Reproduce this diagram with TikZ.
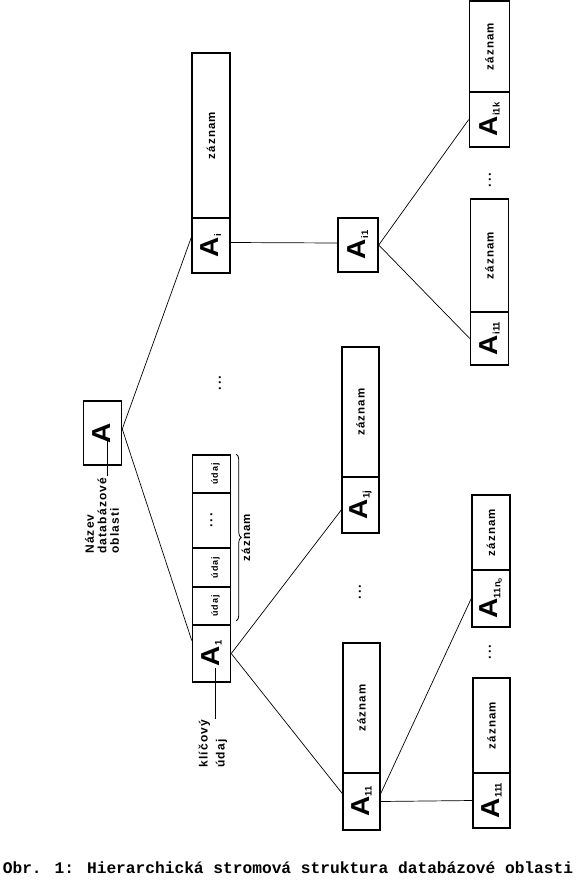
\documentclass[tikz,border=0pt]{standalone}
\usepackage{fontspec}
\usepackage{graphicx}
\usetikzlibrary{decorations.pathreplacing}
\setmainfont{Liberation Sans}
\newfontfamily\lblfont{Liberation Sans}[LetterSpace=10]
\newfontfamily\capfont{Liberation Mono}
\newcommand{\Alab}[1]{\rotatebox{90}{\bfseries\scalebox{1.08}[1]{\fontsize{26}{26}\selectfont A}\kern0.5pt\raisebox{-2.5pt}{\fontsize{9.5}{9.5}\selectfont #1}}}
\newcommand{\rtext}[2]{\rotatebox{90}{\lblfont\fontsize{#1}{#1}\selectfont\bfseries #2}}
\newcommand{\rdots}{\rotatebox{90}{\fontsize{13}{13}\selectfont\bfseries .\kern2pt.\kern2pt.}}
\tikzset{
  acell/.style={draw, line width=1.5pt, inner sep=0pt, minimum width=38pt, minimum height=#1},
  zcell/.style={draw, line width=1.5pt, inner sep=0pt, minimum width=38pt, minimum height=#1},
  conn/.style={line width=0.7pt},
  lbl/.style={rotate=90, anchor=west, align=left, inner sep=1pt, font=\lblfont\fontsize{12}{12.5}\selectfont\bfseries},
  dotsnode/.style={inner sep=0pt}
}
\begin{document}
\begin{tikzpicture}[x=1pt,y=-1pt]
\useasboundingbox (0,0) rectangle (578,887);
% root
\node[acell=64pt] (root) at (102.5,433) {\Alab{}};
\node[lbl] (nazev) at (102,555) {Název\\databázové\\oblasti};
\coordinate (c1) at (107,441);
\draw[conn] (c1) -- (c1 |- nazev.east);
% right subtree
\node[zcell=165pt] (Aiz) at (211,135.5) {\rtext{11.5}{záznam}};
\node[acell=55pt] (Ai) at (211,245.5) {\Alab{i}};
\node[acell=54pt, minimum width=40pt] (Ai1) at (358,245) {\Alab{i1}};
\node[zcell=91pt, minimum width=40pt] (Ai1kz) at (489.5,46.5) {\rtext{11.5}{záznam}};
\node[acell=55pt, minimum width=40pt] (Ai1k) at (489.5,119.5) {\Alab{i1k}};
\node[zcell=113pt] (Ai11z) at (489.5,255.5) {\rtext{11.5}{záznam}};
\node[acell=53pt] (Ai11) at (489.5,338.5) {\Alab{i11}};
% left subtree
\node[zcell=38pt] (u1) at (211.5,474) {\hspace{8pt}\rtext{9}{údaj}};
\node[zcell=55pt] (u2) at (211.5,520.5) {\rdots};
\node[zcell=39pt] (u3) at (211.5,567.5) {\hspace{8pt}\rtext{9}{údaj}};
\node[zcell=38pt] (u4) at (211.5,606) {\hspace{8pt}\rtext{9}{údaj}};
\node[acell=57pt] (A1) at (211.5,653.5) {\Alab{1}};
\draw[decorate, decoration={brace, amplitude=5pt}, line width=0.8pt]
  ([xshift=5pt]u1.north east) -- ([xshift=5pt, yshift=5pt]u4.south east) node[midway, right=5pt, inner sep=0pt] (bz) {\rtext{11.5}{záznam}};
\node[lbl, font=\lblfont\fontsize{12}{17}\selectfont\bfseries] (klic) at (213,769) {klíčový\\údaj};
\coordinate (c2) at (215,668);
\draw[conn] (c2) -- (c2 |- klic.east);
\node[zcell=130pt, minimum width=37pt] (A1jz) at (360.5,412) {\rtext{11.5}{záznam}};
\node[acell=56pt, minimum width=37pt] (A1j) at (360.5,505) {\Alab{1j}};
\node[zcell=130pt, minimum width=37pt] (A11z) at (361.5,708) {\rtext{11.5}{záznam}};
\node[acell=57pt, minimum width=37pt] (A11) at (361.5,801.5) {\Alab{11}};
\node[zcell=75pt] (A11nz) at (491,532.5) {\rtext{11.5}{záznam}};
\node[acell=57pt] (A11n) at (491,598.5) {\Alab{11n\raisebox{-1.5pt}{\fontsize{6.5}{6.5}\selectfont o}}};
\node[zcell=95pt, minimum width=37pt] (A111z) at (491.5,725.5) {\rtext{11.5}{záznam}};
\node[acell=55pt, minimum width=37pt] (A111) at (491.5,800.5) {\Alab{111}};
% dots
\node[dotsnode] (d1) at (220,383) {\rdots};
\node[dotsnode] (d2) at (360,592) {\rdots};
\node[dotsnode] (d3) at (490,180) {\rdots};
\node[dotsnode] (d4) at (490,652) {\rdots};
% connectors
\draw[conn] ([yshift=4pt]root.east) -- ([yshift=8pt]Ai.west);
\draw[conn] ([yshift=4pt]root.east) -- ([yshift=13pt]A1.west);
\draw[conn] ([yshift=3pt]Ai.east) -- ([yshift=2pt]Ai1.west);
\draw[conn] (Ai1.east) -- (Ai1k.west);
\draw[conn] (Ai1.east) -- (Ai11.west);
\draw[conn] (A1.east) -- ([yshift=-5pt]A1j.west);
\draw[conn] (A1.east) -- ([yshift=8pt]A11.west);
\draw[conn] ([yshift=8pt]A11.east) -- (A11n.west);
\draw[conn] (A11.east) -- (A111.west);
% caption
\node[inner sep=0pt, font=\capfont\fontsize{16.2}{16.2}\selectfont\bfseries] (cap) at (288,868) {Obr. 1: Hierarchická stromová struktura databázové oblasti};
\end{tikzpicture}
\end{document}
